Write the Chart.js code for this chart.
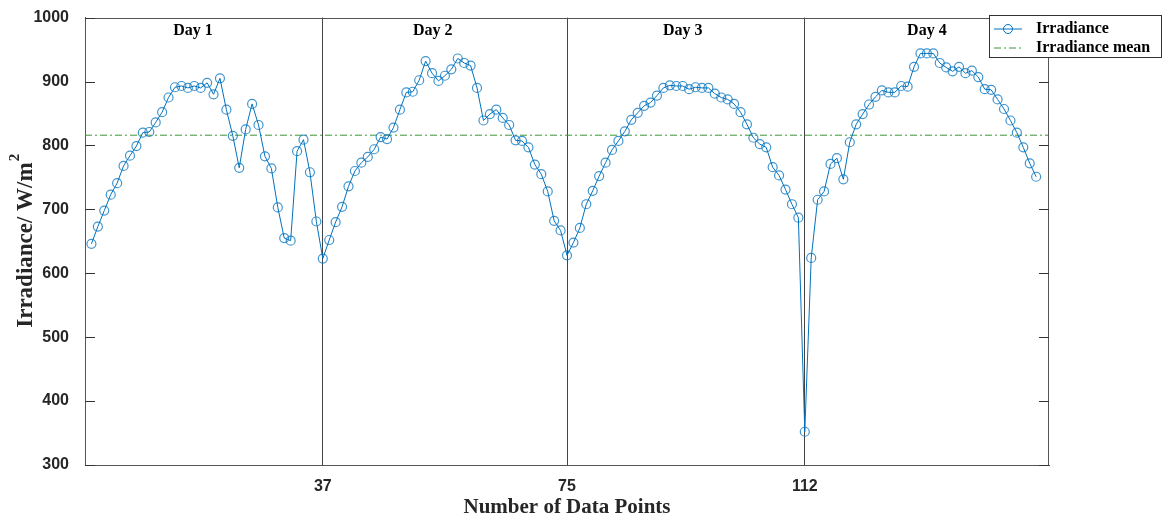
<!DOCTYPE html>
<html>
<head>
<meta charset="utf-8">
<script src="https://cdn.jsdelivr.net/npm/chart.js@4/dist/chart.umd.min.js"></script>
<style>
 body{margin:0;background:#fff;}
 #wrap{width:1167px;height:521px;}
</style>
</head>
<body>
<div id="wrap"><canvas id="canvas_irr" width="1167" height="521"></canvas></div>
<script>
 // data (points 1..148)
 var irradiance=[
  646,673,698,723,741,768,784,799,820,821,836,852,875,891,893,890,893,890,898,880,905,856,815,765,825,865,832,783,764,703,655,651,791,809,758,681,623,
  652,680,704,736,760,773,782,794,813,810,828,856,883,884,902,932,913,901,909,919,936,929,925,890,839,849,856,843,832,808,807,797,770,755,728,682,667,628,
  648,671,708,729,752,773,793,807,822,840,851,862,867,878,890,894,893,893,888,891,890,890,881,875,872,865,852,833,812,802,797,766,753,731,708,687,352,
  624,715,728,771,780,747,805,833,849,864,876,886,883,883,893,892,923,944,944,944,929,922,916,923,913,917,907,888,887,872,857,839,820,797,772,751
 ];
 var irradiance_mean=816;
 var day_ticks=[37,75,112];
 var day_labels=['Day 1','Day 2','Day 3','Day 4'];
 var day_label_x=[16.8,54.1,93,131];
 var y_ticks=[300,400,500,600,700,800,900,1000];

 var blue='#0072BD';
 var green='#3f9436';
 var serif='"Liberation Serif","Times New Roman",serif';
 var sans='"Liberation Sans",Arial,sans-serif';

 var points=irradiance.map(function(v,i){return {x:i+1,y:v};});

 // extras: box, inward ticks, titles, day labels, legend
 var extras={
  id:'extras',
  afterDraw:function(chart){
   var c=chart.ctx,a=chart.chartArea,xs=chart.scales.x,ys=chart.scales.y;
   c.save();
   // box top/right
   c.strokeStyle='#555';c.lineWidth=1;
   c.beginPath();
   c.moveTo(a.left,Math.round(a.top)+0.5);c.lineTo(a.right,Math.round(a.top)+0.5);
   c.moveTo(Math.round(a.right)-0.5,a.top);c.lineTo(Math.round(a.right)-0.5,a.bottom);
   c.stroke();
   // inward y ticks
   c.strokeStyle='#333';
   c.beginPath();
   y_ticks.forEach(function(t){
    var y=Math.round(ys.getPixelForValue(t))+0.5;
    c.moveTo(a.left,y);c.lineTo(a.left+10,y);
    c.moveTo(a.right,y);c.lineTo(a.right-10,y);
   });
   c.stroke();
   // day labels
   c.fillStyle='#000';c.font='bold 16px '+serif;c.textAlign='center';c.textBaseline='middle';
   day_labels.forEach(function(t,i){c.fillText(t,xs.getPixelForValue(day_label_x[i]),31);});
   // x title
   c.font='bold 21px '+serif;c.fillStyle='#262626';
   c.fillText('Number of Data Points',(a.left+a.right)/2,508);
   // y title with superscript
   c.save();
   c.translate(26,(a.top+a.bottom)/2);c.rotate(-Math.PI/2);
   c.font='bold 23px '+serif;
   var main='Irradiance/ W/m',w=c.measureText(main).width;
   c.font='bold 15px '+serif;
   var sw=c.measureText('2').width;
   var x0=-(w+sw)/2;
   c.textAlign='left';c.font='bold 23px '+serif;
   c.fillText(main,x0,0);
   c.font='bold 15px '+serif;
   c.fillText('2',x0+w+1,-11);
   c.restore();
   // legend
   var lx=989.5,ly=15.5,lw=172,lh=42;
   c.fillStyle='#fff';c.fillRect(lx,ly,lw,lh);
   c.strokeStyle='#333';c.lineWidth=1;c.strokeRect(lx,ly,lw,lh);
   c.strokeStyle=blue;
   c.beginPath();c.moveTo(994,29);c.lineTo(1022,29);c.stroke();
   c.beginPath();c.arc(1008,29,4.5,0,Math.PI*2);c.stroke();
   c.strokeStyle=green;c.setLineDash([7,3,2,3]);
   c.beginPath();c.moveTo(994,48);c.lineTo(1022,48);c.stroke();
   c.setLineDash([]);
   c.fillStyle='#000';c.font='bold 16px '+serif;c.textAlign='left';c.textBaseline='middle';
   c.fillText('Irradiance',1036,29);
   c.fillText('Irradiance mean',1036,48);
   c.restore();
  }
 };

 var ctx=document.getElementById('canvas_irr').getContext('2d');
 var my_chart=new Chart(ctx,{
  type:'line',
  data:{
   datasets:[
    {
     label:'Irradiance',
     data:points,
     borderColor:blue,
     borderWidth:1,
     pointRadius:4.5,
     pointBorderWidth:1.2,
     pointBorderColor:'rgba(0,114,189,0.75)',
     pointBackgroundColor:'rgba(0,0,0,0)',
     fill:false,
     tension:0
    },
    {
     label:'Irradiance mean',
     data:[{x:0,y:irradiance_mean},{x:150,y:irradiance_mean}],
     borderColor:green,
     borderWidth:1,
     borderDash:[7,3,2,3],
     pointRadius:0,
     fill:false
    }
   ]
  },
  options:{
   responsive:false,
   animation:false,
   layout:{padding:{top:15,right:118,left:0,bottom:0}},
   plugins:{legend:{display:false},tooltip:{enabled:false}},
   scales:{
    x:{
     type:'linear',min:0,max:150,
     afterBuildTicks:function(s){s.ticks=day_ticks.map(function(v){return {value:v};});},
     afterFit:function(s){s.height=56;},
     grid:{color:'#444',lineWidth:1,tickLength:0},
     border:{display:true,color:'#555',width:1},
     ticks:{color:'#262626',font:{family:sans,size:16,weight:'bold'},padding:12,maxRotation:0,autoSkip:false,
      callback:function(v){return String(v);}}
    },
    y:{
     min:300,max:1000,
     afterBuildTicks:function(s){s.ticks=y_ticks.map(function(v){return {value:v};});},
     afterFit:function(s){s.width=85;},
     grid:{display:false},
     border:{display:true,color:'#555',width:1},
     ticks:{color:'#262626',font:{family:sans,size:16,weight:'bold'},padding:8,
      callback:function(v){return String(v);}}
    }
   }
  },
  plugins:[extras]
 });
</script>
</body>
</html>
